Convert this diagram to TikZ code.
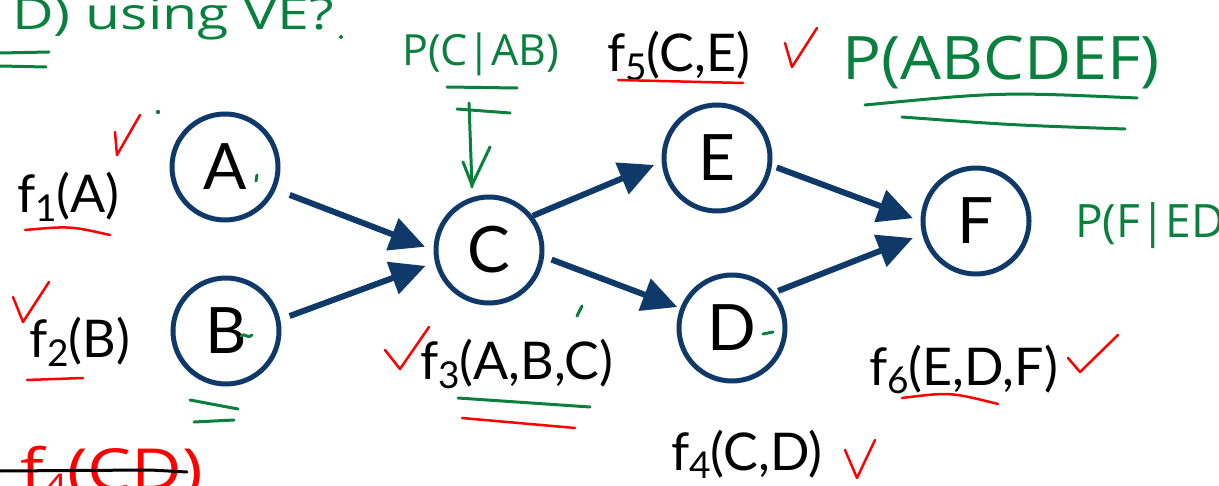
\documentclass[tikz,border=0pt]{standalone}
\usepackage{fontspec}
\usepackage{graphicx}
\setmainfont{Lato}
\newfontfamily\hand{Open Sans}
\usetikzlibrary{arrows.meta}
\definecolor{navy}{RGB}{14,57,104}
\definecolor{pen}{RGB}{10,128,62}
\definecolor{redpen}{RGB}{255,0,0}
\newcommand\flab[2]{f\raisebox{-9pt}{\fontsize{37}{37}\selectfont #1}(#2)}
\begin{document}
\begin{tikzpicture}[x=1pt,y=-1pt,
  var/.style={circle,draw=navy,line width=5pt,minimum size=106pt,inner sep=0pt,font=\fontsize{64}{64}\selectfont},
  edge/.style={navy,line width=6pt,-{Triangle[length=35pt,width=33pt]}},
  fac/.style={anchor=base west,inner sep=0pt,font=\fontsize{52}{52}\selectfont},
  hw/.style={pen,anchor=base west,inner sep=0pt},
  gstroke/.style={pen,line width=3pt,line cap=round,line join=round},
  rstroke/.style={redpen,line width=2.5pt,line cap=round,line join=round}]
\clip (0,0) rectangle (1219,486);
\fill[white] (0,0) rectangle (1219,486);

% nodes
\node[var] (A) at (225,167) {A};
\node[var] (B) at (226,331) {B};
\node[var] (C) at (489,250) {C};
\node[var] (E) at (717,158) {E};
\node[var] (D) at (732,328) {D};
\node[var] (F) at (976,221) {F};

% edges
\draw[edge,shorten <=15pt,shorten >=9pt] (A.-24) -- (C.180);
\draw[edge,shorten <=10pt,shorten >=10pt] (B.12) -- (C.193);
\draw[edge,shorten <=0pt,shorten >=8pt] (C.38) -- (E.184);
\draw[edge,shorten <=8pt,shorten >=3pt] (C.-7) -- (D.159);
\draw[edge,shorten <=5pt,shorten >=8pt] (E.-8) -- (F.180);
\draw[edge,shorten <=4pt,shorten >=10pt] (D.40) -- (F.194);

% factor labels
\node[fac] (f1) at (17,213) {\flab{1}{A}};
\node[fac] (f2) at (29,358) {\flab{2}{B}};
\node[fac] (f3) at (420,380) {\flab{3}{A,B,C}};
\node[fac] (f4) at (671,470) {\flab{4}{C,D}};
\node[fac] (f5) at (607,72) {\flab{5}{C,E}};
\node[fac] (f6) at (869,385) {\flab{6}{E,D,F}};

% handwritten green text
\node[hw,font=\hand\fontsize{44}{44}\selectfont] (t1) at (12,30) {\scalebox{1.3}[1]{D) using VE?}};
\node[hw,font=\hand\fontsize{43}{43}\selectfont] (t2) at (402,66) {P(C|AB)};
\node[hw,font=\hand\fontsize{60}{60}\selectfont] (t3) at (842,80) {\scalebox{1.08}[1]{P(ABCDEF)}};
\node[hw,font=\hand\fontsize{46}{46}\selectfont] (t4) at (1075,238) {P(F|ED)};
% red crossed out text
\node[anchor=base west,inner sep=0pt,redpen,font=\hand\fontsize{58}{58}\selectfont] (t5) at (20,490) {\scalebox{1.2}[1]{f\raisebox{-8pt}{\fontsize{34}{34}\selectfont 4}(CD)}};
\draw[black,line width=3pt,line cap=round] (0,471) -- (150,470) -- (187,472);

% green strokes
\draw[gstroke] (0,53) -- (49,52);
\draw[gstroke] (0,66) -- (46,67);
\fill[pen] (341,37) circle (2pt);
\draw[gstroke] (865,105) .. controls (1000,92) .. (1137,98);
\draw[gstroke] (902,117) .. controls (1010,125) .. (1125,129);
\draw[gstroke] (447,87) -- (517,88);
\draw[gstroke] (457,109) -- (510,113);
\draw[gstroke] (469,103) -- (472,187);
\draw[gstroke] (463,162) -- (472,185) -- (490,147);
\fill[pen] (158,112) circle (2.2pt);
\draw[gstroke] (256,181) -- (257,175);
\draw[gstroke] (241,336) .. controls (245,332) and (248,340) .. (252,335);
\draw[gstroke] (577,316) -- (582,306);
\draw[gstroke] (763,334) -- (773,332);
\draw[gstroke] (458,398) -- (590,407);
\draw[gstroke] (190,400) -- (238,409);
\draw[gstroke] (194,422) -- (234,420);

% red strokes
\draw[rstroke] (115,132) -- (117,155) -- (140,115);
\draw[rstroke] (13,297) -- (23,322) -- (49,282);
\draw[rstroke] (385,350) -- (400,369) -- (429,327);
\draw[rstroke] (1068,358) -- (1080,372) -- (1118,335);
\draw[rstroke] (845,450) -- (857,478) -- (875,440);
\draw[rstroke] (785,43) -- (792,67) -- (817,28);
\draw[rstroke] (25,230) .. controls (70,226) .. (110,235);
\draw[rstroke] (27,380) -- (83,378);
\draw[rstroke] (618,80) .. controls (680,82) .. (743,83);
\draw[rstroke] (462,418) -- (575,428);
\draw[rstroke] (902,398) .. controls (950,392) .. (998,404);
\end{tikzpicture}
\end{document}
